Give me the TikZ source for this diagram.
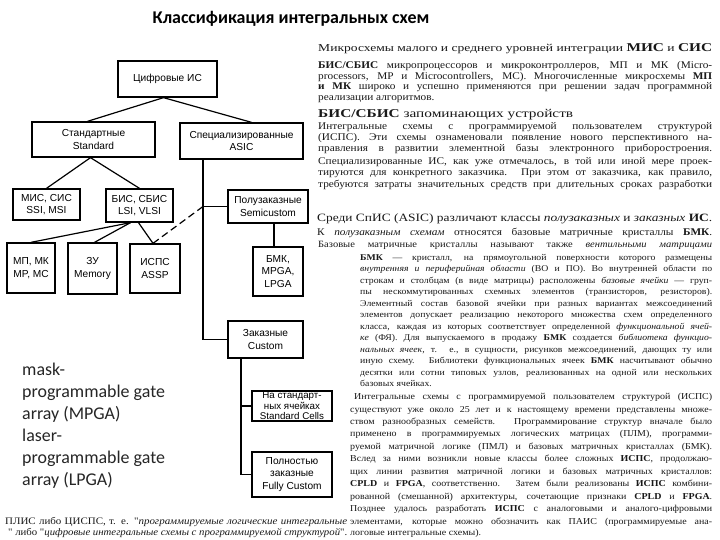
\documentclass[tikz,border=0pt]{standalone}
\usepackage{fontspec}
\setmainfont{Liberation Serif}
\newfontfamily\scanfont[FakeStretch=1.1]{Liberation Serif}
\newfontfamily\boxfont{Liberation Sans}
\newfontfamily\calfont{Carlito}
\newsavebox\lbox
\newcommand\fitto[2]{\sbox\lbox{#2}\ifdim\wd\lbox>#1bp\relax\resizebox{#1bp}{\height}{\usebox\lbox}\else\hbox to #1bp{#2}\fi}
\newcommand\jl[5]{\node[txt] (#1) at (#2,#3) {\fitto{#4}{#5}};}
\newcommand\scl[5]{\node[txt] (#1) at (#2,#3) {\resizebox{#4bp}{\height}{#5}};}
\newcommand\natl[4]{\node[txt] (#1) at (#2,#3) {#4};}
\newcommand\szA{\fontsize{10.3}{11}\selectfont}
\newcommand\szB{\fontsize{8.9}{10}\selectfont}
\newcommand\szC{\fontsize{9.1}{10}\selectfont}
\begin{document}
\begin{tikzpicture}[x=1bp,y=-1bp,
  box/.style={draw,line width=1.3bp,inner sep=0pt,align=center,
    font=\boxfont\fontsize{10.2}{12.5}\selectfont},
  con/.style={line width=1.2bp},
  txt/.style={inner sep=0pt,anchor=base west,text=black!90,font=\scanfont},
  note/.style={inner sep=0pt,anchor=base west,text=black!85,
    font=\calfont\fontsize{18}{22}\selectfont}]
\useasboundingbox[fill=white] (0,0) rectangle (720,540);

% title
\node[inner sep=0pt,anchor=base,font=\calfont\bfseries\fontsize{18}{20}\selectfont] (title) at (291,24) {Классификация интегральных схем};

% boxes
\node[box,minimum width=99bp,minimum height=36bp] (root) at (167.5,79) {Цифровые ИС};
\node[box,minimum width=123bp,minimum height=35bp] (std) at (93.5,139.5) {Стандартные\\Standard};
\node[box,minimum width=123bp,minimum height=36bp] (asic) at (241.5,141) {Специализированные\\ASIC};
\node[box,minimum width=67bp,minimum height=31bp] (mis) at (46.5,204.5) {МИС, СИС\\SSI, MSI};
\node[box,minimum width=67bp,minimum height=33bp] (bis) at (139.5,205.5) {БИС, СБИС\\LSI, VLSI};
\node[box,minimum width=80bp,minimum height=33bp] (semi) at (268,206.5) {Полузаказные\\Semicustom};
\node[box,minimum width=48bp,minimum height=50bp] (mp) at (31,268) {МП, МК\\MP, MC};
\node[box,minimum width=49bp,minimum height=51bp] (mem) at (92.5,268.5) {ЗУ\\Memory};
\node[box,minimum width=50bp,minimum height=49bp] (assp) at (155,268.5) {ИСПС\\ASSP};
\node[box,minimum width=50bp,minimum height=49bp] (bmk) at (278,271.5) {БМК,\\MPGA,\\LPGA};
\node[box,minimum width=75bp,minimum height=37bp] (cust) at (265.5,339.5) {Заказные\\Custom};
\node[box,minimum width=80bp,minimum height=30bp,font=\boxfont\fontsize{9.8}{10.6}\selectfont] (cells) at (292,406) {На стандарт-\\ных ячейках\\Standard Cells};
\node[box,minimum width=80bp,minimum height=45bp] (full) at (292,474.5) {Полностью\\заказные\\Fully Custom};

% connectors
\draw[con] ([xshift=-4bp]root.south) -- ([xshift=-6bp]std.north);
\draw[con] ([xshift=-4bp]root.south) -- ([xshift=10bp]asic.north);
\draw[con] ([xshift=-3bp]std.south) -- (mis.north);
\draw[con] ([xshift=-3bp]std.south) -- (bis.north);
\draw[con] ([xshift=-9bp]bis.south) -- (mp.north);
\draw[con] ([xshift=-9bp]bis.south) -- ([xshift=2bp]mem.north);
\draw[con] ([xshift=-1bp]bis.south) -- ([xshift=-2bp]assp.north);
\coordinate (tr) at ([xshift=-38.5bp]asic.south);
\draw[con] (tr) |- (cust.west);
\draw[con] (semi.west) -- (semi.west -| tr);
\draw[con,dash pattern=on 7bp off 4bp] (semi.west -| tr) -- ([xshift=-2bp]assp.north);
\draw[con] ([xshift=6bp]semi.south) -- ([xshift=6bp]semi.south |- bmk.north);
\coordinate (ct) at ([xshift=-24.5bp]cust.south);
\draw[con] (ct) |- (full.west);
\draw[con] (cells.west) -- (cells.west -| ct);

% left note
\node[note] (n1) at (22,375) {mask-};
\node[note] (n2) at (22,397) {programmable gate};
\node[note] (n3) at (22,419) {array (MPGA)};
\node[note] (n4) at (22,441) {laser-};
\node[note] (n5) at (22,463) {programmable gate};
\node[note] (n6) at (22,485) {array (LPGA)};

% right column, block A
\scl{a1}{318}{51.5}{394}{\fontsize{10.6}{11}\selectfont Микросхемы малого и среднего уровней интеграции \textbf{\fontsize{12}{11}\selectfont МИС} и \textbf{\fontsize{12}{11}\selectfont СИС}}
\jl{a2}{318}{68.5}{394}{\szA\textbf{БИС/СБИС} микропроцессоров и микроконтроллеров, МП и МК (Micro-}
\jl{a3}{318}{79.5}{394}{\szA processors, MP и Microcontrollers, MC). Многочисленные микросхемы \textbf{МП}}
\jl{a4}{318}{90}{394}{\szA\textbf{и МК} широко и успешно применяются при решении задач программной}
\natl{a5}{318}{100.5}{\szA реализации алгоритмов.}
\scl{a6}{318}{117.5}{255}{\fontsize{12}{12}\selectfont\textbf{БИС/СБИС} запоминающих устройств}
\jl{a7}{318}{130}{394}{\szA Интегральные схемы с программируемой пользователем структурой}
\jl{a8}{318}{141}{394}{\szA(ИСПС). Эти схемы ознаменовали появление нового перспективного на-}
\jl{a9}{318}{152}{394}{\szA правления в развитии элементной базы электронного приборостроения.}
\jl{a10}{318}{165}{394}{\szA Специализированные ИС, как уже отмечалось, в той или иной мере проек-}
\jl{a11}{318}{176}{394}{\szA тируются для конкретного заказчика. При этом от заказчика, как правило,}
\jl{a12}{318}{187.5}{394}{\szA требуются затраты значительных средств при длительных сроках разработки}

% block B
\scl{b13}{317}{222}{395}{\fontsize{11.2}{12}\selectfont Среди СпИС (ASIC) различают классы \textit{полузаказных} и \textit{заказных} \textbf{ИС}.}
\jl{b14}{317}{236}{395}{\fontsize{10.3}{11}\selectfont К \textit{полузаказным схемам} относятся базовые матричные кристаллы \textbf{БМК}.}
\jl{b15}{318}{248}{394}{\fontsize{9.6}{11}\selectfont Базовые матричные кристаллы называют также \textit{вентильными матрицами}}
\jl{b16}{360}{260.5}{352}{\szB\textbf{БМК} — кристалл, на прямоугольной поверхности которого размещены}
\jl{b17}{360}{271.9}{352}{\szB\textit{внутренняя и периферийная области} (ВО и ПО). Во внутренней области по}
\jl{b18}{360}{283.4}{352}{\szB строкам и столбцам (в виде матрицы) расположены \textit{базовые ячейки} — груп-}
\jl{b19}{360}{294.8}{352}{\szB пы нескоммутированных схемных элементов (транзисторов, резисторов).}
\jl{b20}{360}{306.3}{352}{\szB Элементный состав базовой ячейки при разных вариантах межсоединений}
\jl{b21}{360}{317.7}{352}{\szB элементов допускает реализацию некоторого множества схем определенного}
\jl{b22}{360}{329.2}{352}{\szB класса, каждая из которых соответствует определенной \textit{функциональной ячей-}}
\jl{b23}{360}{340.6}{352}{\szB\textit{ке} (ФЯ). Для выпускаемого в продажу \textbf{БМК} создается \textit{библиотека функцио-}}
\jl{b24}{360}{352.1}{352}{\szB\textit{нальных ячеек}, т. е., в сущности, рисунков межсоединений, дающих ту или}
\jl{b25}{360}{363.5}{352}{\szB иную схему. Библиотеки функциональных ячеек \textbf{БМК} насчитывают обычно}
\jl{b26}{360}{375}{352}{\szB десятки или сотни типовых узлов, реализованных на одной или нескольких}
\natl{b27}{360}{386.4}{\szB базовых ячейках.}

% block C
\jl{c28}{354}{399.5}{358}{\szC Интегральные схемы с программируемой пользователем структурой (ИСПС)}
\jl{c29}{350}{412}{362}{\szC существуют уже около 25 лет и к настоящему времени представлены множе-}
\jl{c30}{350}{424.4}{362}{\szC ством разнообразных семейств. Программирование структур вначале было}
\jl{c31}{350}{436.9}{362}{\szC применено в программируемых логических матрицах (ПЛМ), программи-}
\jl{c32}{350}{449.3}{362}{\szC руемой матричной логике (ПМЛ) и базовых матричных кристаллах (БМК).}
\jl{c33}{350}{461.8}{362}{\szC Вслед за ними возникли новые классы более сложных \textbf{ИСПС}, продолжаю-}
\jl{c34}{350}{474.2}{362}{\szC щих линии развития матричной логики и базовых матричных кристаллов:}
\jl{c35}{350}{486.7}{362}{\szC\textbf{CPLD} и \textbf{FPGA}, соответственно. Затем были реализованы \textbf{ИСПС} комбини-}
\jl{c36}{350}{499.1}{362}{\szC рованной (смешанной) архитектуры, сочетающие признаки \textbf{CPLD} и \textbf{FPGA}.}
\jl{c37}{350}{511.6}{362}{\szC Позднее удалось разработать \textbf{ИСПС} с аналоговыми и аналого-цифровыми}
\jl{c38}{350}{524}{362}{\szC элементами, которые можно обозначить как ПАИС (программируемые ана-}
\natl{c39}{350}{535.5}{\szC логовые интегральные схемы).}

% bottom-left lines
\jl{d1}{5}{524}{342}{\fontsize{10}{11}\selectfont ПЛИС либо ЦИСПС, т. е. "\textit{программируемые логические интегральные}}
\jl{d2}{8}{535.5}{339}{\fontsize{10}{11}\selectfont" либо "\textit{цифровые интегральные схемы с программируемой структурой}".}
\end{tikzpicture}
\end{document}
